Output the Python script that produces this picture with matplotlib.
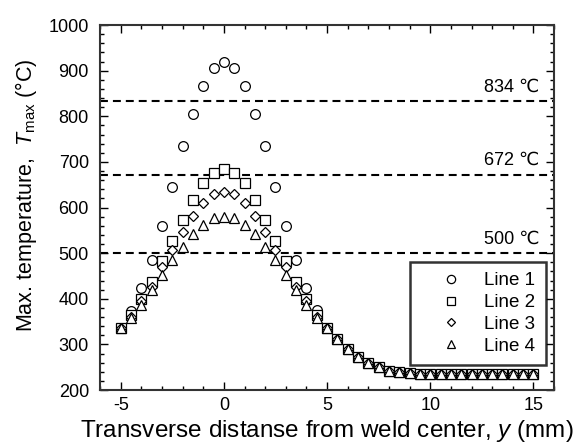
import numpy as np
import matplotlib
matplotlib.use("Agg")
import matplotlib.pyplot as plt
from matplotlib.ticker import MultipleLocator

plt.rcParams['font.family'] = ['Liberation Sans', 'DejaVu Sans']
plt.rcParams['mathtext.fontset'] = 'custom'
plt.rcParams['mathtext.rm'] = 'Liberation Sans'
plt.rcParams['mathtext.it'] = 'Liberation Sans:italic'
plt.rcParams['axes.unicode_minus'] = False

# distance from weld center (mm)
y_pos = np.arange(-5, 15.01, 0.5)

# common tail for y >= 5 mm (all lines coincide)
tail = [336, 311, 290, 273, 259, 250, 242, 239, 237, 236, 236, 235, 235, 235,
        235, 235, 235, 235, 235, 235, 235]

line1_core = [337, 374, 423, 485, 560, 644, 735, 806, 867, 906,
              920,
              906, 867, 806, 735, 644, 560, 485, 423, 375]
line2_core = [335, 364, 399, 437, 483, 527, 573, 616, 653, 675,
              684,
              675, 653, 616, 573, 527, 483, 437, 399, 364]
line3_core = [335, 361, 395, 426, 470, 507, 546, 581, 609, 630,
              635,
              630, 609, 581, 546, 507, 470, 426, 395, 361]
line4_core = [335, 358, 386, 419, 452, 485, 514, 542, 562, 577,
              580,
              577, 562, 542, 514, 485, 452, 419, 386, 358]

line1 = line1_core + tail
line2 = line2_core + tail
line3 = line3_core + tail
line4 = line4_core + tail

ref_temps = [834, 672, 500]
ref_labels = ['834 \u2103', '672 \u2103', '500 \u2103']

fig = plt.figure(figsize=(5.82, 4.47), dpi=100)
ax = fig.add_axes([0.172, 0.1275, 0.78, 0.8165])

for t, lab in zip(ref_temps, ref_labels):
    ax.axhline(t, color='black', ls=(0, (3.8, 2.4)), lw=1.5, zorder=1)
    ax.text(15.3, t + 12, lab, ha='right', va='bottom', fontsize=13)

mk = dict(ls='none', mfc='white', mec='black', mew=0.9, zorder=3)
ax.plot(y_pos, line1, marker='o', ms=7, label='Line 1', **mk)
ax.plot(y_pos, line2, marker='s', ms=7, label='Line 2', **mk)
ax.plot(y_pos, line3, marker='D', ms=5, label='Line 3', **mk)
ax.plot(y_pos, line4, marker='^', ms=7, label='Line 4', **mk)

ax.set_xlim(-6, 16)
ax.set_ylim(200, 1000)
ax.xaxis.set_major_locator(MultipleLocator(5))
ax.xaxis.set_minor_locator(MultipleLocator(1))
ax.yaxis.set_major_locator(MultipleLocator(100))
ax.yaxis.set_minor_locator(MultipleLocator(20))
ax.tick_params(which='both', direction='in', top=True, right=True,
               labelsize=13, width=1)
ax.tick_params(which='major', length=6)
ax.tick_params(which='minor', length=3)
ax.tick_params(axis='x', pad=5)
ax.tick_params(axis='y', pad=8)
for sp in ax.spines.values():
    sp.set_linewidth(1.5)
    sp.set_color('#333333')

ax.set_xlabel('Transverse distanse from weld center, $y$ (mm)', fontsize=17.5, labelpad=3)
ax.set_ylabel('Max. temperature,  $T_{\\mathrm{max}}$ (\u00b0C)', fontsize=15.5)
ax.yaxis.set_label_coords(-0.135, 0.534)

leg = ax.legend(loc='lower right', bbox_to_anchor=(0.982, 0.0685), borderaxespad=0,
                fontsize=13.5, frameon=True, fancybox=False, edgecolor='black',
                handletextpad=0.2, borderpad=0.55, labelspacing=0.25,
                handlelength=3.2, markerscale=0.85)
leg.get_frame().set_linewidth(1.8)

fig.savefig('out.png', dpi=100)
